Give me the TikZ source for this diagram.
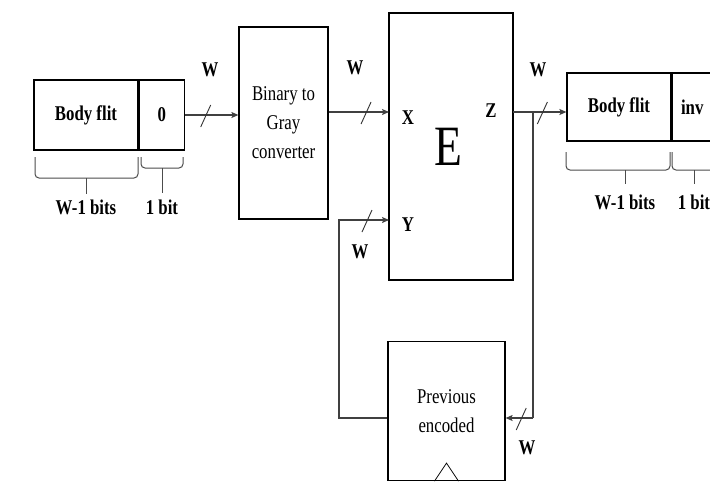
\documentclass[tikz,border=0pt]{standalone}
\usepackage{fontspec}
\setmainfont{Liberation Serif}[FakeStretch=0.8]
\usetikzlibrary{arrows.meta}

\begin{document}
\begin{tikzpicture}[x=1pt,y=-1pt,
  box/.style={draw=black, line width=1.2pt, inner sep=0pt, font=\bfseries\fontsize{21}{29}\selectfont},
  wire/.style={draw=black!75, line width=1.1pt},
  tip/.style={-{Stealth[length=7pt,width=6pt,inset=1.5pt]}},
  slash/.style={draw=black!80, line width=0.9pt},
  brace/.style={draw=black!70, line width=1pt, rounded corners=4pt},
  lbl/.style={font=\bfseries\fontsize{21}{24}\selectfont, inner sep=0pt}]
\clip (0,0) rectangle (710,483);
\fill[white] (0,0) rectangle (710,483);
% packet in
\node[box, minimum width=104pt, minimum height=70pt] (flitL) at (86,115) {Body flit};
\node[box, minimum width=45pt, minimum height=70pt, anchor=west] (zeroL) at (flitL.east) {0};
\draw[brace] (35,157) -- (35,178) -- (138,178) -- (138,157);
\draw[brace] (86,178) -- (86,194);
\draw[brace] (141,157) -- (141,168) -- (183,168) -- (183,157);
\draw[brace] (162,168) -- (162,193);
\node[lbl] (bitsL) at (86,207) {W-1 bits};
\node[lbl] (oneL) at (162,207) {1 bit};
% blocks
\node[box, font=\fontsize{21}{29}\selectfont, align=center, minimum width=89pt, minimum height=192pt] (conv) at (283.5,123) {Binary to\\Gray\\converter};
\node[box, minimum width=124pt, minimum height=267pt] (enc) at (451,146.5) {};
\node[font=\fontsize{57}{60}\selectfont, inner sep=0pt] (encE) at (448,147) {E};
\node[lbl] (inX) at (408,118) {X};
\node[lbl] (inY) at (408,225) {Y};
\node[lbl] (outZ) at (491,111) {Z};
\node[box, font=\fontsize{21}{29}\selectfont, align=center, minimum width=117pt, minimum height=139pt] (prev) at (446.5,411) {Previous\\encoded};
\draw[line width=0.8pt] ([xshift=-12pt]prev.south) -- ([yshift=18pt]prev.south) -- ([xshift=12pt]prev.south);
% packet out
\node[box, minimum width=104pt, minimum height=68pt] (flitR) at (619,107) {Body flit};
\node[box, minimum width=40pt, minimum height=68pt, anchor=west] (invR) at (flitR.east) {inv};
\draw[brace] (566,152) -- (566,170) -- (670,170) -- (670,152);
\draw[brace] (625,170) -- (625,184);
\draw[brace] (672,152) -- (672,170) -- (720,170);
\draw[brace] (694,170) -- (694,184);
\node[lbl] (bitsR) at (625,202) {W-1 bits};
\node[lbl] (oneR) at (694,202) {1 bit};
% wires
\coordinate (pX) at (389,112);
\coordinate (pY) at (389,220);
\coordinate (pZ) at (513,112);
\coordinate (fb) at (339,418);
\coordinate (br) at (533,112);
\draw[wire, tip] (zeroL.east) -- coordinate[pos=0.39] (m1) (zeroL.east -| conv.west);
\draw[wire, tip] (conv.east |- pX) -- coordinate[pos=0.62] (m2) (pX);
\draw[wire, tip] (prev.west |- fb) -- (fb) |- (pY);
\coordinate (m3) at (367,220);
\draw[wire, tip] (pZ) -- coordinate[pos=0.55] (m4) (pZ -| flitR.west);
\draw[wire] (br) -- (br |- fb);
\draw[wire, tip] (br |- fb) -- coordinate[pos=0.43] (m5) (prev.east |- fb);
\foreach \m in {m1,m2,m3,m4,m5}
  \draw[slash] ([shift={(-5,12)}]\m) -- ([shift={(5,-10)}]\m);
\node[lbl] (w1) at (210,70) {W};
\node[lbl] (w2) at (355,68) {W};
\node[lbl] (w3) at (360,252) {W};
\node[lbl] (w4) at (538,70) {W};
\node[lbl] (w5) at (527,448) {W};
\end{tikzpicture}
\end{document}
